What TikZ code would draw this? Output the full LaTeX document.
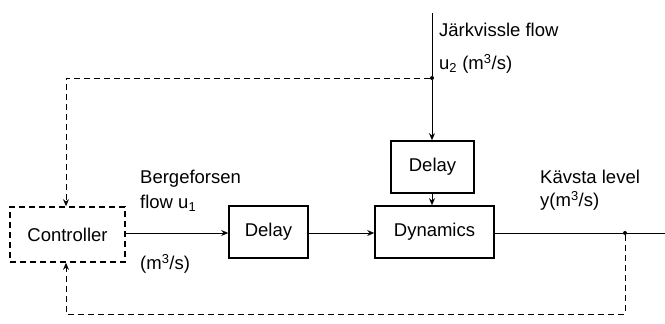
\documentclass[tikz,border=0pt]{standalone}
\usepackage{fontspec}
\setmainfont{Liberation Sans}
\usetikzlibrary{arrows.meta}
\begin{document}
\begin{tikzpicture}[x=1bp,y=-1bp,
  every node/.style={font=\fontsize{18.5bp}{20bp}\selectfont},
  block/.style={draw,line width=1.6bp,minimum height=52bp,inner sep=0pt},
  ctrlbox/.style={block,dashed,dash pattern=on 6bp off 4bp},
  sig/.style={line width=0.9bp,-{Stealth[length=7bp,width=6bp]}},
  plain/.style={line width=0.9bp},
  fb/.style={line width=0.9bp,dash pattern=on 6bp off 4bp,-{Stealth[length=7bp,width=6bp]}},
  lbl/.style={anchor=west,inner sep=0pt},
  junction/.style={circle,fill,inner sep=0pt,minimum size=4bp}]
\useasboundingbox (0,0) rectangle (665,323);

% blocks
\node[ctrlbox,minimum width=115bp,minimum height=55bp] (ctrl) at (67.5,234.5) {Controller};
\node[block,minimum width=79bp] (delayA) at (268.5,232) {Delay};
\node[block,minimum width=119bp] (dyn) at (434.5,232) {Dynamics};
\node[block,minimum width=83bp] (delayB) at (432.5,167) {Delay};

% inputs, output and branch points
\coordinate (u2in) at (432,13);
\node[junction] (j2) at (432,78) {};
\node[junction] (jy) at (625,233) {};
\coordinate (yout) at (665,233);
\coordinate (tl) at (66,78);
\coordinate (bl) at (66,314);
\coordinate (br) at (625,314);

% forward path
\draw[plain] (u2in) -- (j2);
\draw[sig] (j2) -- (delayB.north -| j2);
\draw[sig] (delayB.south -| j2) -- (dyn.north -| j2);
\draw[sig] (ctrl.east |- 0,233) -- (delayA.west |- 0,233);
\draw[sig] (delayA.east |- 0,233) -- (dyn.west |- 0,233);
\draw[plain] (dyn.east |- 0,233) -- (jy) -- (yout);

% measurement paths to the controller
\draw[fb] (j2) -- (tl) -- (tl |- ctrl.north);
\draw[fb] (jy) -- (br) -- (bl) -- (bl |- ctrl.south);

% labels
\node[lbl] (l1) at (439,30) {Järkvissle flow};
\node[lbl] (l2) at (439,64) {u\textsubscript{2} (m\textsuperscript{3}/s)};
\node[lbl] (l3) at (140,179) {Bergeforsen};
\node[lbl] (l4) at (140,203) {flow u\textsubscript{1}};
\node[lbl] (l5) at (140,264) {(m\textsuperscript{3}/s)};
\node[lbl] (l6) at (540,177) {Kävsta level};
\node[lbl] (l7) at (540,201) {y(m\textsuperscript{3}/s)};
\end{tikzpicture}
\end{document}
